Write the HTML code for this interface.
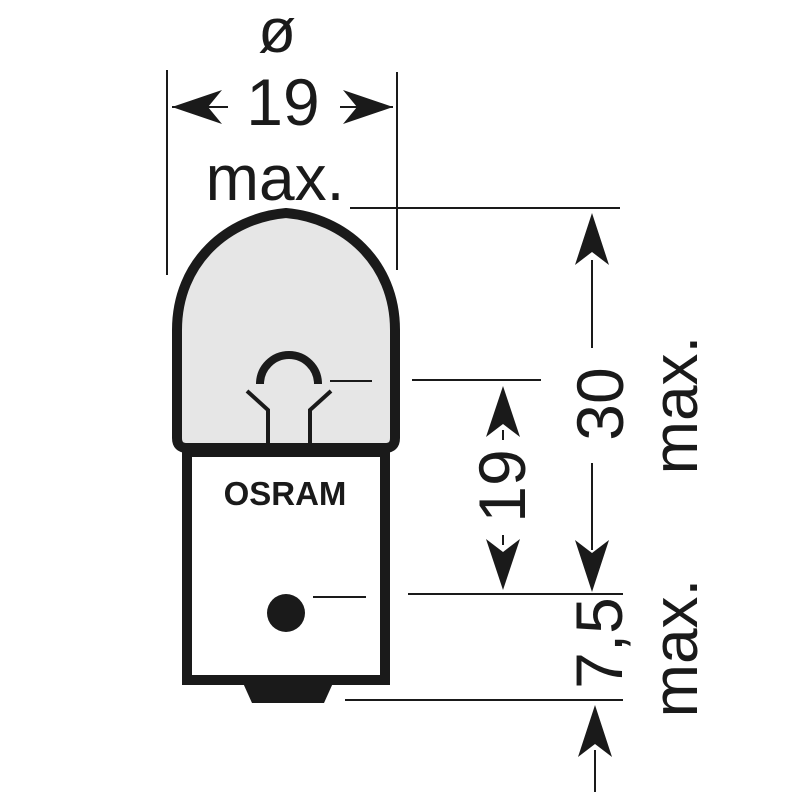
<!DOCTYPE html>
<html><head><style>
html,body{margin:0;padding:0;background:#fff;}
svg{display:block;}
text{font-family:"Liberation Sans",sans-serif;fill:#1a1a1a;}
</style></head><body>
<svg width="800" height="800" viewBox="0 0 800 800" xmlns="http://www.w3.org/2000/svg">
<!-- glass -->
<path d="M177 438 L177 330 C177 262 228 218 286 213 C344 218 395 262 395 330 L395 438 Q395 448 385 448 L187 448 Q177 448 177 438 Z" fill="#e6e6e6" stroke="#1a1a1a" stroke-width="10" stroke-linejoin="round"/>
<!-- filament -->
<path d="M260 384 A29 29 0 0 1 318 384" fill="none" stroke="#1a1a1a" stroke-width="8"/>
<path d="M247 391 L268 410 L268 446 M331 391 L310 410 L310 446" fill="none" stroke="#1a1a1a" stroke-width="4"/>
<line x1="330" y1="381" x2="372" y2="381" stroke="#1a1a1a" stroke-width="2"/>
<!-- base -->
<rect x="187" y="452" width="198" height="228" fill="#fff" stroke="#1a1a1a" stroke-width="10"/>
<path d="M243 683 L333 683 L324 703 L252 703 Z" fill="#1a1a1a"/>
<text x="285" y="505" font-size="33" font-weight="bold" text-anchor="middle">OSRAM</text>
<circle cx="286" cy="613" r="19" fill="#1a1a1a"/>
<line x1="313" y1="597" x2="366" y2="597" stroke="#1a1a1a" stroke-width="2"/>
<g stroke="#1a1a1a" stroke-width="2" fill="none">
<line x1="167" y1="70" x2="167" y2="275"/>
<line x1="397" y1="72" x2="397" y2="270"/>
<line x1="172" y1="107" x2="228" y2="107"/>
<line x1="340" y1="107" x2="393" y2="107"/>
<line x1="350" y1="208" x2="620" y2="208"/>
<line x1="412" y1="380" x2="541" y2="380"/>
<line x1="408" y1="594" x2="623" y2="594"/>
<line x1="345" y1="700" x2="623" y2="700"/>
<line x1="592" y1="260" x2="592" y2="348"/>
<line x1="592" y1="463" x2="592" y2="550"/>
<line x1="503" y1="430" x2="503" y2="440"/>
<line x1="503" y1="535" x2="503" y2="545"/>
<line x1="595" y1="750" x2="595" y2="792"/>
</g>
<g fill="#1a1a1a">
<path d="M172 107 L222 90 L208 107 L222 124 Z"/>
<path d="M393 107 L343 90 L357 107 L343 124 Z"/>
<path d="M592 213 L575 265 L592 252 L609 265 Z"/>
<path d="M592 592 L575 540 L592 553 L609 540 Z"/>
<path d="M503 386 L486 437 L503 424 L520 437 Z"/>
<path d="M503 590 L486 539 L503 552 L520 539 Z"/>
<path d="M595 705 L578 757 L595 744 L612 757 Z"/>
</g>
<text x="277" y="52" font-size="62" text-anchor="middle">ø</text>
<text x="283" y="125" font-size="66" text-anchor="middle">19</text>
<text x="275" y="200" font-size="64" text-anchor="middle">max.</text>
<text transform="translate(623,404) rotate(-90)" font-size="66" text-anchor="middle">30</text>
<text transform="translate(697,405) rotate(-90)" font-size="64" text-anchor="middle">max.</text>
<text transform="translate(525,486) rotate(-90)" font-size="66" text-anchor="middle">19</text>
<text transform="translate(622,643) rotate(-90)" font-size="66" text-anchor="middle">7,5</text>
<text transform="translate(697,648) rotate(-90)" font-size="64" text-anchor="middle">max.</text>
</svg>
</body></html>
